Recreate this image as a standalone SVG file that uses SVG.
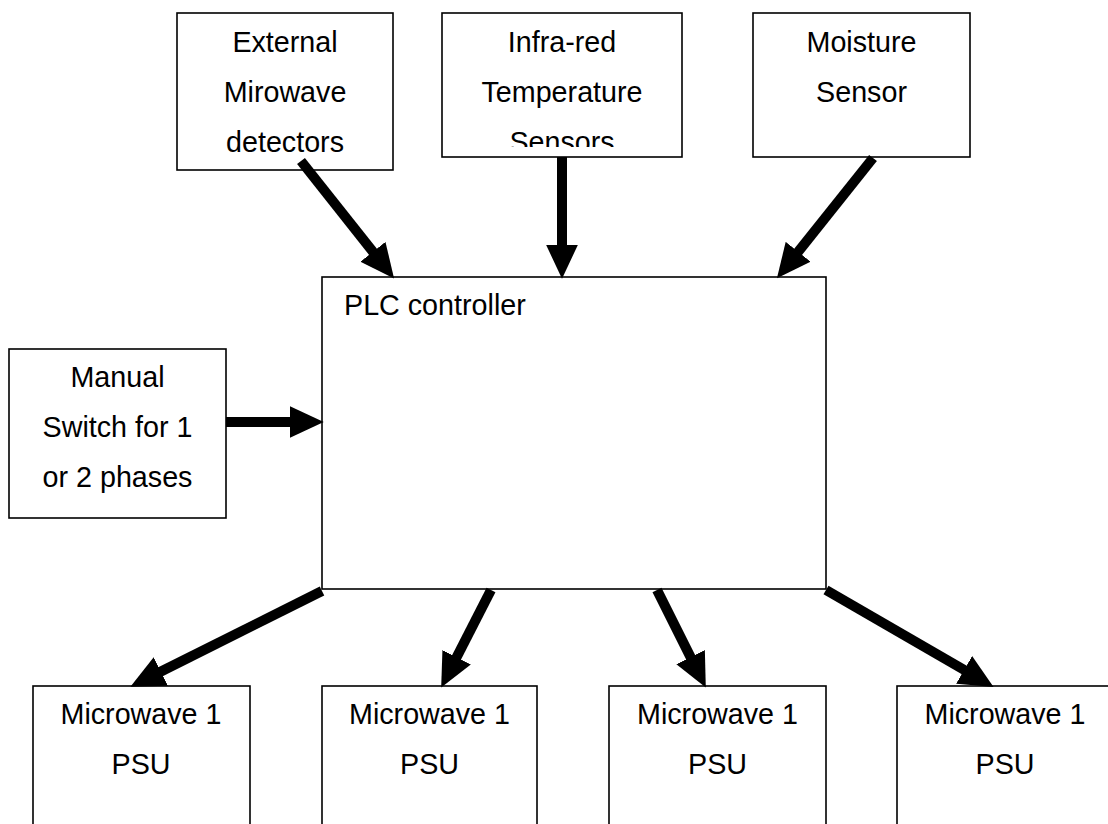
<svg xmlns="http://www.w3.org/2000/svg" width="1108" height="824" viewBox="0 0 1108 824">
<style>
.box{fill:#fff;stroke:#000;stroke-width:1.6}
.t{font-family:"Liberation Sans",Arial,sans-serif;font-size:28.7px;fill:#000;text-anchor:middle}
.tl{text-anchor:start}
.conn line{stroke:#000;stroke-width:10;marker-end:url(#ah)}
</style>
<defs>
<marker id="ah" markerUnits="userSpaceOnUse" markerWidth="34" markerHeight="32" refX="4" refY="15" orient="auto" viewBox="0 0 32 30">
<path d="M0,0 L32,15 L0,30 z" fill="#000"/>
</marker>
<clipPath id="clip2"><rect x="442" y="13" width="240" height="134"/></clipPath>
</defs>
<rect width="1108" height="824" fill="#fff"/>
<g id="ext">
<rect class="box" x="177" y="13" width="216" height="157"/>
<text class="t" x="285" y="52">External</text>
<text class="t" x="285" y="102">Mirowave</text>
<text class="t" x="285" y="152">detectors</text>
</g>
<g id="ir">
<rect class="box" x="442" y="13" width="240" height="144"/>
<text class="t" x="562" y="52">Infra-red</text>
<text class="t" x="562" y="102">Temperature</text>
<text class="t" x="562" y="152" clip-path="url(#clip2)">Sensors</text>
</g>
<g id="moist">
<rect class="box" x="753" y="13" width="217" height="144"/>
<text class="t" x="861.5" y="52">Moisture</text>
<text class="t" x="861.5" y="102">Sensor</text>
</g>
<g id="plc">
<rect class="box" x="322" y="277" width="504" height="312"/>
<text class="t tl" x="344" y="315">PLC controller</text>
</g>
<g id="manual">
<rect class="box" x="9" y="349" width="217" height="169"/>
<text class="t" x="117.5" y="387">Manual</text>
<text class="t" x="117.5" y="437">Switch for 1</text>
<text class="t" x="117.5" y="487">or 2 phases</text>
</g>
<g id="psu1">
<rect class="box" x="33" y="686" width="217" height="150"/>
<text class="t" x="141" y="724">Microwave 1</text>
<text class="t" x="141" y="774">PSU</text>
</g>
<g id="psu2">
<rect class="box" x="322" y="686" width="215" height="150"/>
<text class="t" x="429.5" y="724">Microwave 1</text>
<text class="t" x="429.5" y="774">PSU</text>
</g>
<g id="psu3">
<rect class="box" x="609" y="686" width="217" height="150"/>
<text class="t" x="717.5" y="724">Microwave 1</text>
<text class="t" x="717.5" y="774">PSU</text>
</g>
<g id="psu4">
<rect class="box" x="897" y="686" width="217" height="150"/>
<text class="t" x="1005" y="724">Microwave 1</text>
<text class="t" x="1005" y="774">PSU</text>
</g>
<g id="connectors" class="conn">
<line x1="301" y1="161" x2="375.6" y2="255.1"/>
<line x1="562" y1="157" x2="562" y2="249"/>
<line x1="873" y1="158" x2="795.5" y2="255.1"/>
<line x1="226" y1="422" x2="294" y2="422"/>
<line x1="322" y1="591" x2="157" y2="673.5"/>
<line x1="491" y1="590" x2="454.7" y2="661.1"/>
<line x1="657" y1="590" x2="692.5" y2="661"/>
<line x1="826" y1="590" x2="967.8" y2="672"/>
</g>
</svg>
